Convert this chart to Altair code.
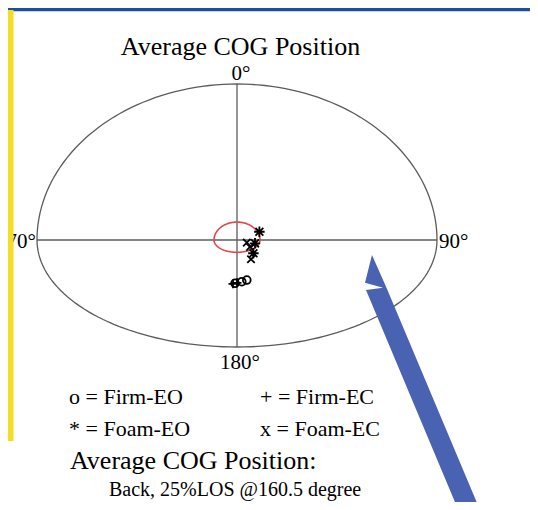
import altair as alt
import pandas as pd

# ---------------- text ----------------
TITLE = "Average COG Position"
ANGLE_LABELS = ["0°", "90°", "180°", "270°"]
LEGEND_LABELS = ["o = Firm-EO", "+ = Firm-EC", "* = Foam-EO", "x = Foam-EC"]
SUMMARY_TITLE = "Average COG Position:"
SUMMARY_TEXT = "Back, 25%LOS @160.5 degree"

# ---------------- data (normalised polar plot units) ----------------
GROUPS = ["Firm-EO", "Firm-EC", "Foam-EO", "Foam-EC"]
FIRM_EO_X = [-0.010, 0.024, 0.049]
FIRM_EO_Y = [-0.405, -0.390, -0.374]
FIRM_EC_X = [-0.020, 0.000]
FIRM_EC_Y = [-0.410, -0.400]
FOAM_EO_X = [0.112, 0.090, 0.082]
FOAM_EO_Y = [0.053, -0.031, -0.124]
FOAM_EC_X = [0.049, 0.065, 0.070]
FOAM_EC_Y = [-0.025, -0.065, -0.180]
SWAY_RADIUS = 0.115          # red sway circle
OUTER_RADIUS = 1.0           # 100 % limit of stability

# ---------------- styling ----------------
W, H = 522, 494
SERIF = "Liberation Serif"
GRID = "#5c5c5c"
RED = "#e0474c"
BLUE_BORDER = "#1f4ea0"
YELLOW = "#f6dc22"
ARROW_BLUE = "#4a62b2"

xs = alt.Scale(domain=[-1, 1], range=[29, 429])
ys = alt.Scale(domain=[-1, 0, 1], range=[339, 232, 76])
X = lambda f: alt.X(f, type="quantitative", scale=xs, axis=None)
Y = lambda f: alt.Y(f, type="quantitative", scale=ys, axis=None)

one = pd.DataFrame({"a": [0]})


def circle_layer(radius, color, width):
    return (
        alt.Chart(alt.sequence(0, 362, 2, as_="t"))
        .transform_calculate(
            x=f"{radius} * sin(datum.t * PI / 180)",
            y=f"{radius} * cos(datum.t * PI / 180)",
        )
        .mark_line(color=color, strokeWidth=width)
        .encode(x=X("x"), y=Y("y"), order="t:Q")
    )


outer = circle_layer(OUTER_RADIUS, GRID, 1.3)
sway = circle_layer(SWAY_RADIUS, RED, 1.6)

axes_df = pd.DataFrame({"x": [-1, 0], "x2": [1, 0], "y": [0, 1], "y2": [0, -1]})
axes = alt.Chart(axes_df).mark_rule(color=GRID, strokeWidth=1.3).encode(
    x=X("x"), x2="x2", y=Y("y"), y2="y2"
)

PLUS = "M-1,0L1,0M0,-1L0,1"
CROSS = "M-1,-1L1,1M-1,1L1,-1"
STAR = "M-1,0L1,0M0,-1L0,1M-0.75,-0.75L0.75,0.75M-0.75,0.75L0.75,-0.75"


def points(xv, yv, shape, size):
    df = pd.DataFrame({"x": xv, "y": yv})
    return alt.Chart(df).mark_point(
        shape=shape, size=size, filled=False, color="black",
        strokeWidth=1.8, opacity=1
    ).encode(x=X("x"), y=Y("y"))


pts = [
    points(FIRM_EO_X, FIRM_EO_Y, "circle", 60),
    points(FIRM_EC_X, FIRM_EC_Y, PLUS, 80),
    points(FOAM_EO_X, FOAM_EO_Y, STAR, 110),
    points(FOAM_EC_X, FOAM_EC_Y, CROSS, 55),
]


def angle_label(text, x, y, align, dx, dy):
    df = pd.DataFrame({"x": [x], "y": [y]})
    return alt.Chart(df).mark_text(
        text=text, align=align, baseline="middle", dx=dx, dy=dy,
        font=SERIF, fontSize=21, color="black"
    ).encode(x=X("x"), y=Y("y"))


angle_labels = [
    angle_label(ANGLE_LABELS[0], 0, 1, "center", 4, -10),
    angle_label(ANGLE_LABELS[1], 1, 0, "left", 2, 2),
    angle_label(ANGLE_LABELS[2], 0, -1, "center", 3, 16),
    angle_label(ANGLE_LABELS[3], -1, 0, "right", -1, 2),
]


def label(text, x, y, size, align="left"):
    return alt.Chart(one).mark_text(
        text=text, align=align, baseline="middle", font=SERIF,
        fontSize=size, color="black"
    ).encode(x=alt.value(x), y=alt.value(y))


texts = [
    label(TITLE, 232.5, 39, 26, "center"),
    label(LEGEND_LABELS[0], 61, 389, 22),
    label(LEGEND_LABELS[1], 252, 389, 22),
    label(LEGEND_LABELS[2], 61, 421, 22),
    label(LEGEND_LABELS[3], 252, 421, 22),
    label(SUMMARY_TITLE, 62, 453, 26),
    label(SUMMARY_TEXT, 101, 482, 20),
]

# ---------------- arrow annotation (single custom symbol) ----------------
ARROW_PTS = [(372, 255), (365, 282.7), (383, 287.7), (366, 290),
             (462.5, 520), (484.2, 520), (386.7, 288.3)]
AX, AY, AS = 420.0, 387.5, 132.5
arrow_path = "M" + "L".join(
    f"{(px - AX) / AS:.4f},{(py - AY) / AS:.4f}" for px, py in ARROW_PTS
) + "Z"
arrow = alt.Chart(one).mark_point(
    shape=arrow_path, size=(2 * AS) ** 2, filled=True, fill=ARROW_BLUE,
    strokeWidth=0, opacity=1
).encode(x=alt.value(AX - 8), y=alt.value(AY - 8))

# ---------------- slide border ----------------
top_bar = alt.Chart(one).mark_rect(color=BLUE_BORDER).encode(
    x=alt.value(0), x2=alt.value(W), y=alt.value(0), y2=alt.value(3.3)
)
yellow_bar = alt.Chart(one).mark_rect(color=YELLOW).encode(
    x=alt.value(0), x2=alt.value(5.5), y=alt.value(2), y2=alt.value(433)
)

chart = alt.layer(
    outer, axes, sway, *pts, *angle_labels, *texts, arrow, top_bar, yellow_bar
).properties(
    width=W, height=H, padding=0, autosize="none", background="white"
).configure_view(stroke=None)

chart.save("out.html", embed_options={"renderer": "svg", "actions": False})
